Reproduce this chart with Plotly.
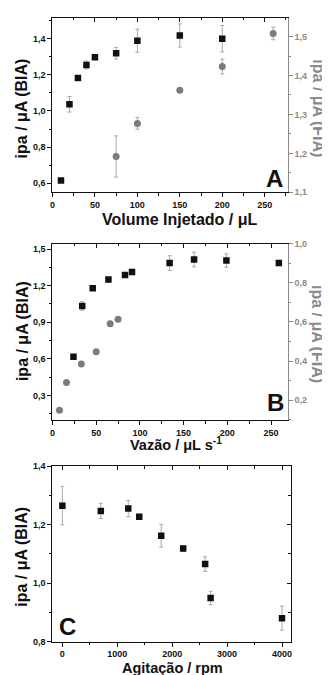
import plotly.graph_objects as go

# ---------------- data ----------------
# Panel A: injected volume (uL)
vol_bia = [10, 20, 30, 40, 50, 75, 100, 150, 200]
ipa_bia_A = [0.615, 1.037, 1.182, 1.255, 1.298, 1.320, 1.389, 1.418, 1.400]
err_bia_A = [0.004, 0.043, 0.010, 0.022, 0.008, 0.032, 0.064, 0.064, 0.073]
vol_fia = [75, 100, 150, 200, 260]
ipa_fia_A = [1.192, 1.277, 1.362, 1.423, 1.508]
err_fia_A = [0.053, 0.015, 0.004, 0.019, 0.016]

# Panel B: flow rate (uL/s)
flow_bia = [24, 34, 46, 64, 83, 91, 134, 162, 199, 259]
ipa_bia_B = [0.617, 1.033, 1.178, 1.250, 1.288, 1.312, 1.385, 1.414, 1.406, 1.385]
err_bia_B = [0.008, 0.035, 0.010, 0.020, 0.010, 0.022, 0.060, 0.060, 0.055, 0.022]
flow_fia = [8, 16, 33, 50, 66, 75]
ipa_fia_B = [0.149, 0.291, 0.385, 0.448, 0.591, 0.614]
err_fia_B = [0.004, 0.006, 0.008, 0.006, 0.006, 0.006]

# Panel C: stirring (rpm)
rpm = [0, 700, 1200, 1400, 1800, 2200, 2600, 2700, 4000]
ipa_C = [1.265, 1.247, 1.255, 1.227, 1.162, 1.118, 1.065, 0.949, 0.880]
err_C = [0.066, 0.026, 0.028, 0.008, 0.039, 0.010, 0.025, 0.023, 0.041]

# texts
xtitle_A = "Volume Injetado / μL"
xtitle_B = "Vazão / μL s<sup>-1</sup>"
xtitle_C = "Agitação / rpm"
ytitle_bia = "ipa / μA (BIA)"
ytitle_fia = "ipa / μA (FIA)"
letters = ["A", "B", "C"]

# ---------------- styling ----------------
W, H = 330, 675
FONT = "Liberation Sans, Arial, sans-serif"
BLACK = "#111111"
GRAY = "#7c7c7c"
AXGRAY = "#8a8a8a"
ERRC = "#a8a8a8"


def px_x(a, b):
    return [a / W, b / W]


def px_y(top, bottom):
    return [1 - bottom / H, 1 - top / H]


tickfont = dict(family=FONT, size=9, color=BLACK, weight="bold")
tickfont_g = dict(family=FONT, size=9, color=AXGRAY, weight="bold")


def main_axis(rng, dtick, mdtick, color=BLACK, fmt=None, mirror=False, dom=None, anchor=None, side=None, overlaying=None, tf=None):
    d = dict(range=rng, dtick=dtick, tick0=0, showgrid=False, zeroline=False,
             showline=True, linecolor=color, linewidth=1.3, mirror=mirror,
             ticks="outside", ticklen=4, tickwidth=1.2, tickcolor=color,
             tickfont=tf or tickfont,
             minor=dict(ticks="outside", ticklen=2.5, tickwidth=1, tickcolor=color, dtick=mdtick, tick0=0, showgrid=False))
    if fmt:
        d["tickformat"] = fmt
    if dom is not None:
        d["domain"] = dom
    if anchor:
        d["anchor"] = anchor
    if side:
        d["side"] = side
    if overlaying:
        d["overlaying"] = overlaying
    return d


def inner_axis(rng, dtick, mdtick, anchor, side, overlaying):
    return dict(range=rng, dtick=dtick, tick0=0, showgrid=False, zeroline=False,
                showline=False, ticks="inside", ticklen=4, tickwidth=1.2, tickcolor=BLACK,
                showticklabels=False, anchor=anchor, side=side, overlaying=overlaying,
                minor=dict(ticks="inside", ticklen=2.5, tickwidth=1, tickcolor=BLACK, dtick=mdtick, tick0=0, showgrid=False))


fig = go.Figure()

sq = dict(symbol="square", size=6.5, color=BLACK)
ci = dict(symbol="circle", size=7, color=GRAY)


def eb(arr):
    return dict(type="data", array=arr, visible=True, color=ERRC, thickness=1, width=2)


# Panel A
fig.add_trace(go.Scatter(x=vol_fia, y=ipa_fia_A, error_y=eb(err_fia_A), mode="markers", marker=ci, xaxis="x", yaxis="y2"))
fig.add_trace(go.Scatter(x=vol_bia, y=ipa_bia_A, error_y=eb(err_bia_A), mode="markers", marker=sq, xaxis="x", yaxis="y"))
# Panel B
fig.add_trace(go.Scatter(x=flow_fia, y=ipa_fia_B, error_y=eb(err_fia_B), mode="markers", marker=ci, xaxis="x2", yaxis="y4"))
fig.add_trace(go.Scatter(x=flow_bia, y=ipa_bia_B, error_y=eb(err_bia_B), mode="markers", marker=sq, xaxis="x2", yaxis="y3"))
# Panel C
fig.add_trace(go.Scatter(x=rpm, y=ipa_C, error_y=eb(err_C), mode="markers", marker=sq, xaxis="x3", yaxis="y5"))
# empty traces to hold the inner-tick overlay axes
for xa, ya in [("x4", "y"), ("x5", "y3"), ("x6", "y5"), ("x3", "y6")]:
    fig.add_trace(go.Scatter(x=[], y=[], xaxis=xa, yaxis=ya, showlegend=False))

xdomA = px_x(42, 280)
xdomC = px_x(42, 283)
ydomA = px_y(5, 182)
ydomB = px_y(234, 413)
ydomC = px_y(460, 638)

rxA = [0, 277]
rxB = [0, 269]
rxC = [-180, 4156]

fig.update_layout(
    width=W, height=H, autosize=False,
    margin=dict(l=0, r=0, t=0, b=0),
    paper_bgcolor="white", plot_bgcolor="white",
    showlegend=False, separators=", ",
    xaxis=main_axis(rxA, 50, 25, mirror=True, dom=xdomA, anchor="y"),
    yaxis=main_axis([0.55, 1.515], 0.2, 0.1, fmt=".1f", dom=ydomA, anchor="x"),
    yaxis2=main_axis([1.1, 1.548], 0.1, 0.05, color=AXGRAY, fmt=".1f", anchor="x", side="right", overlaying="y", tf=tickfont_g),
    xaxis4=inner_axis(rxA, 50, 25, "y", "top", "x"),

    xaxis2=main_axis(rxB, 50, 25, mirror=True, dom=xdomA, anchor="y3"),
    yaxis3=main_axis([0.1, 1.545], 0.3, 0.15, fmt=".1f", dom=ydomB, anchor="x2"),
    yaxis4=main_axis([0.1, 1.0], 0.2, 0.1, color=AXGRAY, fmt=".1f", anchor="x2", side="right", overlaying="y3", tf=tickfont_g),
    xaxis5=inner_axis(rxB, 50, 25, "y3", "top", "x2"),

    xaxis3=main_axis(rxC, 1000, 500, mirror=True, dom=xdomC, anchor="y5"),
    yaxis5=main_axis([0.8, 1.4], 0.2, 0.1, fmt=".1f", mirror=True, dom=ydomC, anchor="x3"),
    xaxis6=inner_axis(rxC, 1000, 500, "y5", "top", "x3"),
    yaxis6=inner_axis([0.8, 1.4], 0.2, 0.1, "x3", "right", "y5"),
)


def ann(text, x, y, size, color=BLACK, angle=0):
    fig.add_annotation(text=text, x=x / W, y=1 - y / H, xref="paper", yref="paper",
                       showarrow=False, textangle=angle, xanchor="center", yanchor="middle",
                       font=dict(family=FONT, size=size, color=color, weight="bold"))


# axis titles
ann(xtitle_A, 171, 210, 16)
ann(xtitle_B, 167, 437, 14.5)
ann(xtitle_C, 163, 665, 14.5)
ann(ytitle_bia, 11, 97, 16, angle=-90)
ann(ytitle_bia, 11, 323, 16, angle=-90)
ann(ytitle_bia, 11, 552, 16, angle=-90)
ann(ytitle_fia, 311, 97, 16, color=AXGRAY, angle=90)
ann(ytitle_fia, 311, 326, 16, color=AXGRAY, angle=90)
# panel letters
ann(letters[0], 267, 168, 24)
ann(letters[1], 268, 395, 24)
ann(letters[2], 57, 623, 24)

fig.write_html("out.html")
